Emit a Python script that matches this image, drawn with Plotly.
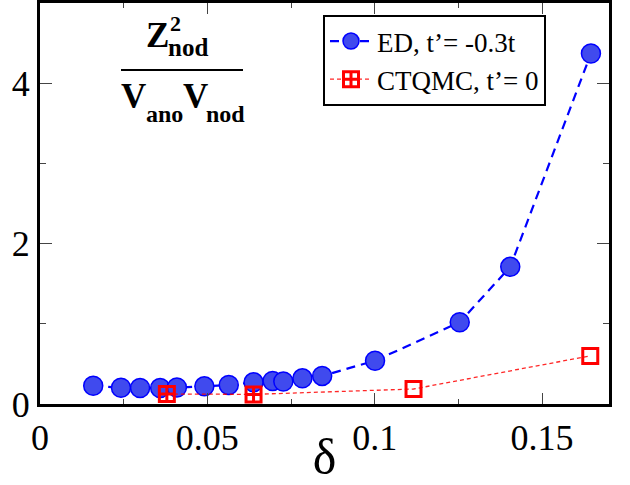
import plotly.graph_objects as go

# ED data, t' = -0.3t
ed_delta = [0.0159, 0.0242, 0.0299, 0.0359, 0.0409, 0.0491, 0.0564, 0.0638,
            0.0695, 0.0727, 0.0784, 0.0843, 0.1001, 0.1254, 0.1405, 0.1646]
ed_ratio = [0.228, 0.203, 0.200, 0.200, 0.205, 0.220, 0.237, 0.270,
            0.287, 0.280, 0.320, 0.350, 0.540, 1.020, 1.710, 4.370]

# CTQMC data, t' = 0
qmc_delta = [0.0379, 0.0638, 0.1116, 0.1644]
qmc_ratio = [0.125, 0.120, 0.187, 0.600]
qmc_symbols = ["square-cross-open", "square-cross-open", "square-open", "square-open"]

x_ticks = [0, 0.05, 0.1, 0.15]
x_ticktext = ["0", "0.05", "0.1", "0.15"]
y_ticks = [0, 2, 4]
y_ticktext = ["0", "2", "4"]

SERIF = "Liberation Serif"
W, H = 630, 485
L, R, T, B = 40, 21, 3, 81


def px(x, y):
    """Convert window pixel position to paper coordinates."""
    pw = W - L - R
    ph = H - T - B
    return (x - L) / pw, (H - B - y) / ph


fig = go.Figure()

fig.add_trace(go.Scatter(
    x=ed_delta, y=ed_ratio, mode="lines+markers",
    name="ED, t\u2019= -0.3t",
    line=dict(color="#0000ff", width=2.2, dash="9px,6px"),
    marker=dict(symbol="circle", size=19, color="rgb(64,74,238)",
                line=dict(color="#0000ff", width=1.5)),
))

fig.add_trace(go.Scatter(
    x=qmc_delta, y=qmc_ratio, mode="lines+markers",
    name="CTQMC, t\u2019= 0",
    line=dict(color="rgba(255,0,0,0.85)", width=1.3, dash="4px,3px"),
    marker=dict(symbol=qmc_symbols, size=15, color="#ff0000",
                line=dict(color="#ff0000", width=3)),
))

# fraction label Z^2_nod / (V_ano V_nod), each glyph group placed on its own
label_parts = [
    ("Z", 157, 36, 35),
    ("2", 175, 24, 22),
    ("nod", 188, 47, 25),
    ("V", 133, 96, 35),
    ("ano", 164, 114, 24),
    ("V", 195, 96, 35),
    ("nod", 226, 114, 24),
]
annotations = []
for text, x, y, size in label_parts:
    ax, ay = px(x, y)
    annotations.append(dict(
        text=f"<b>{text}</b>", x=ax, y=ay, xref="paper", yref="paper",
        xanchor="center", yanchor="middle", showarrow=False,
        font=dict(family=SERIF, size=size, color="black"),
    ))

x0, y0 = px(121, 70)
x1, _ = px(243, 70)
shapes = [dict(type="line", xref="paper", yref="paper", x0=x0, x1=x1, y0=y0, y1=y0,
               line=dict(color="black", width=2))]

lx, ly = px(323, 15)

fig.update_layout(
    width=W, height=H,
    margin=dict(l=L, r=R, t=T, b=B),
    paper_bgcolor="white", plot_bgcolor="white",
    font=dict(family=SERIF, color="black"),
    showlegend=True,
    legend=dict(x=lx, y=ly, xanchor="left", yanchor="top",
                bgcolor="white", bordercolor="black", borderwidth=2,
                font=dict(family=SERIF, size=27, color="black"),
                itemwidth=42, tracegroupgap=0),
    annotations=annotations,
    shapes=shapes,
    xaxis=dict(
        range=[0, 0.17], tickvals=x_ticks, ticktext=x_ticktext,
        ticks="inside", ticklen=11, tickwidth=1, tickcolor="#444",
        minor=dict(dtick=0.025, ticks="inside", ticklen=5, tickwidth=1, tickcolor="#444"),
        showline=True, linecolor="black", linewidth=3, mirror="allticks",
        showgrid=False, zeroline=False, automargin=False,
        tickfont=dict(family=SERIF, size=36, color="black"),
        title=dict(text="\u03b4", font=dict(family=SERIF, size=50, color="black"), standoff=0),
    ),
    yaxis=dict(
        range=[0, 5], tickvals=y_ticks, ticktext=y_ticktext,
        ticks="inside", ticklen=12, tickwidth=1, tickcolor="#444",
        minor=dict(dtick=1, ticks="inside", ticklen=6, tickwidth=1, tickcolor="#444"),
        showline=True, linecolor="black", linewidth=3, mirror="allticks",
        showgrid=False, zeroline=False, automargin=False,
        tickfont=dict(family=SERIF, size=36, color="black"),
    ),
)

fig.write_html("out.html")
